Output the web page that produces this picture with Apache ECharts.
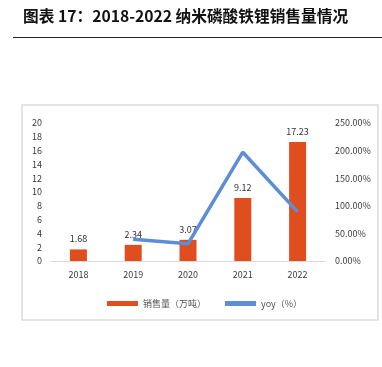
<!DOCTYPE html>
<html>
<head>
<meta charset="utf-8">
<script src="https://cdn.jsdelivr.net/npm/echarts@6/dist/echarts.min.js"></script>
<style>
  html, body { margin: 0; padding: 0; background: #fff; }
  #chart { width: 382px; height: 367px; }
</style>
</head>
<body>
<div id="chart"></div>
<script>
// 年份
const years = ['2018', '2019', '2020', '2021', '2022']
// 销售量（万吨）
const sales = [1.68, 2.34, 3.07, 9.12, 17.23]
// yoy（%），2018 无数据
const yoy = [null, 39.29, 31.2, 197.07, 88.93]

const titleText = '图表 17：2018-2022 纳米磷酸铁锂销售量情况'
const labelColor = '#3a3a3a'

const chart = echarts.init(document.getElementById('chart'))

const option = {
  animation: false,
  textStyle: { fontFamily: 'Noto Sans CJK SC' },
  graphic: [
    {
      type: 'text',
      left: 23,
      top: 8,
      style: {
        text: titleText,
        font: 'bold 15.7px "Noto Sans CJK SC"',
        fill: '#111'
      }
    },
    {
      type: 'line',
      shape: { x1: 13, y1: 37.5, x2: 382, y2: 37.5 },
      style: { stroke: '#222', lineWidth: 1 }
    },
    {
      type: 'rect',
      shape: { x: 22, y: 105, width: 356, height: 215 },
      style: { fill: 'none', stroke: '#dcdcdc', lineWidth: 1.5 }
    }
  ],
  grid: {
    left: 51,
    right: 57,
    top: 123,
    bottom: 106
  },
  legend: {
    left: 102,
    top: 294,
    itemWidth: 31,
    itemHeight: 5,
    itemGap: 19,
    selectedMode: false,
    textStyle: { fontSize: 9, color: '#555' },
    data: [
      { name: '销售量（万吨）', icon: 'rect' },
      { name: 'yoy（%）', icon: 'rect' }
    ]
  },
  xAxis: {
    type: 'category',
    data: years,
    axisLine: { lineStyle: { color: '#d9d9d9', width: 1 } },
    axisTick: { show: false },
    axisLabel: { fontSize: 9, color: labelColor, margin: 9 }
  },
  yAxis: [
    {
      type: 'value',
      min: 0,
      max: 20,
      interval: 2,
      splitLine: { show: false },
      axisLine: { show: false },
      axisTick: { show: false },
      axisLabel: { fontSize: 9, color: labelColor, margin: 9 }
    },
    {
      type: 'value',
      min: 0,
      max: 250,
      interval: 50,
      splitLine: { show: false },
      axisLine: { show: false },
      axisTick: { show: false },
      axisLabel: {
        fontSize: 9,
        color: labelColor,
        margin: 10,
        formatter: v => v.toFixed(2) + '%'
      }
    }
  ],
  series: [
    {
      name: '销售量（万吨）',
      type: 'bar',
      data: sales,
      barWidth: 17,
      itemStyle: { color: '#e04e1f' },
      label: {
        show: true,
        position: 'top',
        distance: 6,
        fontSize: 9,
        color: '#333'
      }
    },
    {
      name: 'yoy（%）',
      type: 'line',
      yAxisIndex: 1,
      data: yoy,
      showSymbol: false,
      symbol: 'none',
      itemStyle: { color: '#5b8ed6' },
      lineStyle: { color: '#5b8ed6', width: 3.5 }
    }
  ]
}

chart.setOption(option)
</script>
</body>
</html>
